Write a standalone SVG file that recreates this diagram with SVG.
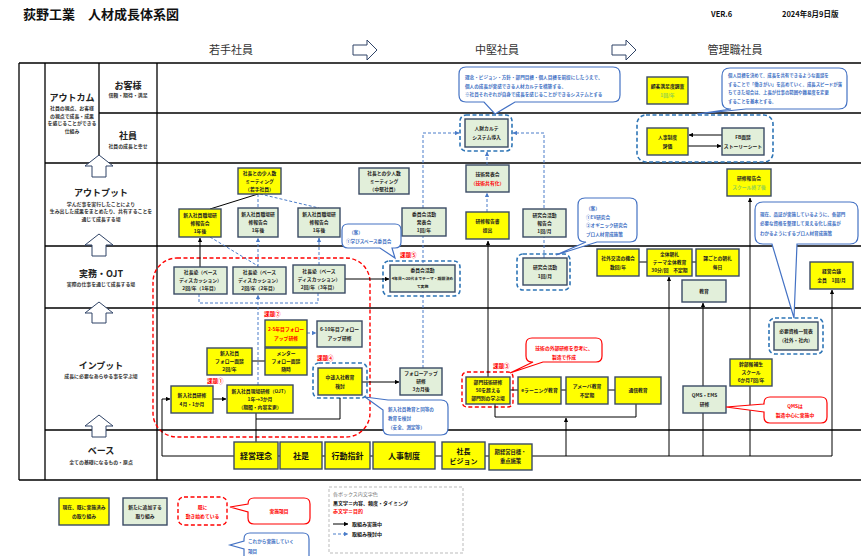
<svg xmlns="http://www.w3.org/2000/svg" width="861" height="556" viewBox="0 0 861 556">
<defs>
<style>
text{font-family:"Noto Sans CJK JP","Noto Sans",sans-serif;}
.t{font-size:4.8px;font-weight:bold;text-anchor:middle;fill:#222}
.tr{font-size:4.8px;font-weight:bold;text-anchor:middle;fill:#FF0000}
.tg{font-size:4.8px;font-weight:bold;text-anchor:middle;fill:#92D050}
.y{fill:#FFFF00;stroke:#3A4A64;stroke-width:1.4}
.g{fill:#E2EFDA;stroke:#3A4A64;stroke-width:1.4}
.fr{stroke:#000;stroke-width:1.3;fill:none}
.ua{fill:#fff;stroke:#2F4366;stroke-width:1}
.cat{font-size:9px;font-weight:bold;text-anchor:middle;fill:#222}
.sub{font-size:4.9px;font-weight:bold;text-anchor:middle;fill:#333}
.hd{font-size:11px;text-anchor:middle;fill:#333}
.bd{fill:none;stroke:#2E75B6;stroke-width:1.6;stroke-dasharray:4,2.5}
.rd{fill:none;stroke:#FF0000;stroke-width:1.4;stroke-dasharray:4,2.5}
.cb{fill:#fff;stroke:#4472C4;stroke-width:1.2}
.cr{fill:#fff;stroke:#FF0000;stroke-width:1.2}
.ctb{font-size:4.5px;fill:#4472C4;font-weight:bold}
.ctr{font-size:4.8px;fill:#FF0000;font-weight:bold;text-anchor:middle}
.k{font-size:5.5px;fill:#FF0000;font-weight:bold}
.s{stroke:#000;stroke-width:1;fill:none}
.sa{stroke:#000;stroke-width:1;fill:none;marker-end:url(#ab)}
.d{stroke:#4A7CC9;stroke-width:1;fill:none;stroke-dasharray:3,2}
.da{stroke:#4A7CC9;stroke-width:1;fill:none;stroke-dasharray:3,2;marker-end:url(#abl)}
.bt{font-size:8px;font-weight:bold;text-anchor:middle;fill:#111}
</style>
<marker id="ab" viewBox="0 0 6 6" refX="5.5" refY="3" markerWidth="4.5" markerHeight="4.5" orient="auto"><path d="M0,0 L6,3 L0,6 z" fill="#000"/></marker>
<marker id="abl" viewBox="0 0 6 6" refX="5.5" refY="3" markerWidth="4.5" markerHeight="4.5" orient="auto"><path d="M0,0 L6,3 L0,6 z" fill="#4A7CC9"/></marker>
</defs>
<rect width="861" height="556" fill="#fff"/>

<!-- header -->
<g id="header">
<text x="23" y="19" style="font-size:13px;font-weight:bold;fill:#111">荻野工業　人材成長体系図</text>
<text x="711" y="17" style="font-size:7.5px;font-weight:bold;fill:#111">VER.6</text>
<text x="782" y="17" style="font-size:7.5px;font-weight:bold;fill:#111">2024年8月9日版</text>
<text class="hd" x="231" y="54">若手社員</text>
<text class="hd" x="497" y="54">中堅社員</text>
<text class="hd" x="735" y="54">管理職社員</text>
<polygon class="ua" points="353,45 367,45 367,40 377,50 367,60 367,55 353,55"/>
<polygon class="ua" points="612,45 626,45 626,40 636,50 626,60 626,55 612,55"/>
</g>

<!-- frame -->
<g id="frame">
<line class="fr" x1="19" y1="63" x2="861" y2="63"/>
<line class="fr" x1="99" y1="113" x2="861" y2="113"/>
<line class="fr" x1="45" y1="163" x2="861" y2="163"/>
<line class="fr" x1="45" y1="246" x2="861" y2="246"/>
<line class="fr" x1="45" y1="308" x2="861" y2="308"/>
<line class="fr" x1="45" y1="430" x2="861" y2="430"/>
<line class="fr" x1="19" y1="480" x2="861" y2="480"/>
<line class="fr" x1="19" y1="63" x2="19" y2="480"/>
<line class="fr" x1="45" y1="63" x2="45" y2="480"/>
<line class="fr" x1="99" y1="63" x2="99" y2="163"/>
<line class="fr" x1="157" y1="63" x2="157" y2="480"/>
</g>

<!-- category labels -->
<g id="categories">
<text class="cat" x="72" y="101">アウトカム</text>
<text class="sub" x="72" y="110">社員の視点、お客様</text>
<text class="sub" x="72" y="117.5">の視点で成長・成果</text>
<text class="sub" x="72" y="125">を感じることができる</text>
<text class="sub" x="72" y="132.5">仕組み</text>
<text class="cat" x="128" y="89">お客様</text>
<text class="sub" x="128" y="97">信頼・期待・満足</text>
<text class="cat" x="128" y="139">社員</text>
<text class="sub" x="128" y="148">社員の成長と幸せ</text>
<text class="cat" x="101" y="196">アウトプット</text>
<text class="sub" x="101" y="205.5">学んだ事を実行したことにより</text>
<text class="sub" x="101" y="213">生み出した成果をまとめたり、共有することを</text>
<text class="sub" x="101" y="220.5">通じて成長する場</text>
<text class="cat" x="101" y="277">実務・OJT</text>
<text class="sub" x="101" y="286">実際の仕事を通じて成長する場</text>
<text class="cat" x="101" y="369">インプット</text>
<text class="sub" x="101" y="378">成長に必要なあらゆる事を学ぶ場</text>
<text class="cat" x="101" y="454">ベース</text>
<text class="sub" x="101" y="463.5">全ての基礎になるもの・原点</text>
<polygon class="ua" points="99,155 113,166 106,166 106,177 92,177 92,166 85,166"/>
<polygon class="ua" points="99,234 113,245 106,245 106,256 92,256 92,245 85,245"/>
<polygon class="ua" points="99,302 113,313 106,313 106,323 92,323 92,313 85,313"/>
<polygon class="ua" points="99,415 113,426 106,426 106,437 92,437 92,426 85,426"/>
</g>

<!-- containers -->
<g id="containers">
<rect class="rd" x="153" y="258" width="217" height="179" rx="24"/>
<rect class="bd" x="460" y="115" width="52" height="36" rx="6"/>
<rect class="bd" x="637" y="115" width="136" height="47" rx="9"/>
<rect class="bd" x="383" y="261" width="77" height="35" rx="6"/>
<rect class="bd" x="517" y="254" width="53" height="36" rx="6"/>
<rect class="bd" x="313" y="363" width="54" height="35" rx="6"/>
<rect class="rd" x="462" y="372" width="51" height="35" rx="5"/>
<rect class="bd" x="769" y="318" width="54" height="36" rx="6"/>
</g>

<!-- connectors -->
<g id="connectors">
<path class="da" d="M423,368 V133 H459"/>
<path class="da" d="M544,258 V133 H513"/>
<path class="da" d="M487,165 V152"/>
<path class="da" d="M487,212 V193"/>
<path class="da" d="M258,385 V295"/>
<path class="da" d="M258,267 V238"/>
<path class="d" d="M258,194 V208"/>
<path class="d" d="M260,194 L319,208"/>
<path class="d" d="M210,237 L258,266"/>
<path class="da" d="M319,265 V238"/>
<path class="d" d="M199,294 V303 H318 V293"/>
<path class="da" d="M307,333 H316"/>
<path class="sa" d="M200,267 V238"/>
<path class="s" d="M210,209 L258,194"/>
<path class="sa" d="M345,279 H389"/>
<path class="sa" d="M488,377 V241"/>
<path class="sa" d="M722,135 H689"/>
<path class="sa" d="M688,146 H721"/>
<path class="sa" d="M362,382 H399"/>
<path class="sa" d="M234,456 H162 V399 H170"/>
<path class="sa" d="M213,399 H226"/>
<path class="s" d="M256,442 V413"/>
<path class="s" d="M256,419 H340 V398"/>
<path class="s" d="M252,361 H265"/>
<path class="s" d="M278,456 H280 M322,456 H325 M370,456 H373 M435,456 H442 M485,456 H489"/>
<path class="s" d="M532,456 H832"/>
<path class="sa" d="M566,456 V418"/>
<path class="s" d="M495,404 V417 H636 V404"/>
<path class="sa" d="M669,456 V277"/>
<path class="s" d="M703,456 V413"/>
<path class="sa" d="M703,386 V303"/>
<path class="s" d="M750,456 V386"/>
<path class="sa" d="M750,359 V198"/>
<path class="sa" d="M832,456 V290"/>
<path class="s" d="M510,390 H518 M561,390 H566 M608,390 H615"/>
<path class="s" d="M639,262 H647 M692,262 H696"/>
</g>

<!-- nodes -->
<g id="n_wakate_meeting"><rect class="y" x="238" y="168" width="43" height="26"/><text class="t"><tspan x="259.5" y="174.8">社長との少人数</tspan><tspan x="259.5" y="182.8">ミーティング</tspan><tspan x="259.5" y="190.8">（若手社員）</tspan></text></g>
<g id="n_chuken_meeting"><rect class="g" x="359" y="168" width="50" height="26"/><text class="t"><tspan x="384" y="174.8">社長との少人数</tspan><tspan x="384" y="182.8">ミーティング</tspan><tspan x="384" y="190.8">（中堅社員）</tspan></text></g>
<g id="n_report1"><rect class="y" x="179" y="209" width="42" height="28"/><text class="t"><tspan x="200" y="216.8">新入社員職場研</tspan><tspan x="200" y="224.8">修報告会</tspan><tspan x="200" y="232.8">1年後</tspan></text></g>
<g id="n_report2"><rect class="g" x="238" y="208" width="40" height="29"/><text class="t"><tspan x="258" y="216.3">新入社員職場研</tspan><tspan x="258" y="224.3">修報告会</tspan><tspan x="258" y="232.3">1年後</tspan></text></g>
<g id="n_report3"><rect class="g" x="298" y="208" width="42" height="29"/><text class="t"><tspan x="319" y="216.3">新入社員職場研</tspan><tspan x="319" y="224.3">修報告会</tspan><tspan x="319" y="232.3">1年後</tspan></text></g>
<g id="n_iinkai_happyo"><rect class="g" x="402" y="208" width="44" height="28"/><text class="t"><tspan x="424" y="215.8">委員会活動</tspan><tspan x="424" y="223.8">発表会</tspan><tspan x="424" y="231.8">1回/年</tspan></text></g>
<g id="n_gijutsu_happyo"><rect class="g" x="466" y="165" width="43" height="27"/><text class="t" x="487.5" y="175.8">技術発表会</text><text class="tr" x="487.5" y="184.8">（技術共有化）</text></g>
<g id="n_kenshu_houkoku"><rect class="y" x="466" y="212" width="43" height="27"/><text class="t"><tspan x="487.5" y="222.8">研修報告書</tspan><tspan x="487.5" y="231.8">提出</tspan></text></g>
<g id="n_kenkyu_houkoku"><rect class="g" x="523" y="209" width="43" height="28"/><text class="t"><tspan x="544.5" y="216.8">研究会活動</tspan><tspan x="544.5" y="224.8">報告会</tspan><tspan x="544.5" y="232.8">1回/月</tspan></text></g>
<g id="n_kenshu_happyokai"><rect class="y" x="727" y="169" width="44" height="27"/><text class="t" x="749" y="179.8">研修報告会</text><text class="tg" x="749" y="188.8">スクール終了後</text></g>
<g id="n_cs"><rect class="y" x="647" y="77" width="41" height="27"/><text class="t" x="667.5" y="87.8">顧客満足度調査</text><text class="tg" x="667.5" y="96.8">1回/年</text></g>
<g id="n_jinji"><rect class="y" x="647" y="128" width="41" height="27"/><text class="t"><tspan x="667.5" y="138.8">人事制度</tspan><tspan x="667.5" y="147.8">評価</tspan></text></g>
<g id="n_fb"><rect class="g" x="722" y="128" width="42" height="27"/><text class="t"><tspan x="743" y="138.8">FB面談</tspan><tspan x="743" y="147.8">ストーリーシート</tspan></text></g>
<g id="n_karte"><rect class="g" x="465" y="119" width="43" height="28"/><text class="t"><tspan x="486.5" y="130.3">人財カルテ</tspan><tspan x="486.5" y="139.3">システム導入</tspan></text></g>
<g id="n_juku1"><rect class="g" x="174" y="267" width="53" height="27"/><text class="t"><tspan x="200.5" y="274.3">社長塾（ベース</tspan><tspan x="200.5" y="282.3">ディスカッション）</tspan><tspan x="200.5" y="290.3">2回/年（1年目）</tspan></text></g>
<g id="n_juku2"><rect class="g" x="233" y="267" width="53" height="27"/><text class="t"><tspan x="259.5" y="274.3">社長塾（ベース</tspan><tspan x="259.5" y="282.3">ディスカッション）</tspan><tspan x="259.5" y="290.3">2回/年（2年目）</tspan></text></g>
<g id="n_juku3"><rect class="g" x="293" y="265" width="52" height="28"/><text class="t"><tspan x="319" y="272.8">社長塾（ベース</tspan><tspan x="319" y="280.8">ディスカッション）</tspan><tspan x="319" y="288.8">2回/年（3年目）</tspan></text></g>
<g id="n_iinkai"><rect class="g" x="390" y="265" width="65" height="27"/><text class="t" x="422.5" y="272.3">委員会活動</text><text class="t" x="422.5" y="280.3" style="font-size:3.9px">4年目～20代までテーマ・期限決め</text><text class="t" x="422.5" y="288.3" style="font-size:3.9px">て実施</text></g>
<g id="n_kenkyu"><rect class="g" x="523" y="258" width="44" height="27"/><text class="t"><tspan x="545" y="268.8">研究会活動</tspan><tspan x="545" y="277.8">1回/月</tspan></text></g>
<g id="n_shagai"><rect class="y" x="597" y="249" width="42" height="27"/><text class="t"><tspan x="618" y="259.8">社外交流の機会</tspan><tspan x="618" y="268.8">数回/年</tspan></text></g>
<g id="n_zentai"><rect class="y" x="647" y="249" width="45" height="27"/><text class="t"><tspan x="669.5" y="256.3">全体朝礼</tspan><tspan x="669.5" y="264.3">テーマ全体教育</tspan><tspan x="669.5" y="272.3">30分/回　不定期</tspan></text></g>
<g id="n_kagoto"><rect class="y" x="696" y="249" width="43" height="27"/><text class="t"><tspan x="717.5" y="259.8">課ごとの朝礼</tspan><tspan x="717.5" y="268.8">毎日</tspan></text></g>
<g id="n_kyoiku"><rect class="g" x="682" y="280" width="44" height="22"/><text class="t" x="704" y="292.8">教育</text></g>
<g id="n_keiei_kaigi"><rect class="y" x="810" y="262" width="43" height="27"/><text class="t"><tspan x="831.5" y="272.8">経営会議</tspan><tspan x="831.5" y="281.8">全員　1回/月</tspan></text></g>
<g id="n_follow25"><rect class="y" x="265" y="320" width="42" height="27"/><text class="tr"><tspan x="286" y="330.8">2-5年目フォロー</tspan><tspan x="286" y="339.8">アップ研修</tspan></text></g>
<g id="n_follow610"><rect class="g" x="317" y="321" width="45" height="26"/><text class="t"><tspan x="339.5" y="331.3">6-10年目フォロー</tspan><tspan x="339.5" y="340.3">アップ研修</tspan></text></g>
<g id="n_shinnyu_follow"><rect class="y" x="207" y="348" width="45" height="27"/><text class="t"><tspan x="229.5" y="355.3">新入社員</tspan><tspan x="229.5" y="363.3">フォロー面談</tspan><tspan x="229.5" y="371.3">2回/年</tspan></text></g>
<g id="n_mentor"><rect class="y" x="265" y="348" width="42" height="27"/><text class="t"><tspan x="286" y="355.3">メンター</tspan><tspan x="286" y="363.3">フォロー面談</tspan><tspan x="286" y="371.3">随時</tspan></text></g>
<g id="n_chuto"><rect class="y" x="318" y="368" width="44" height="27"/><text class="t"><tspan x="340" y="378.8">中途入社教育</tspan><tspan x="340" y="387.8">検討</tspan></text></g>
<g id="n_followup"><rect class="g" x="400" y="368" width="42" height="27"/><text class="t"><tspan x="421" y="375.3">フォローアップ</tspan><tspan x="421" y="383.3">研修</tspan><tspan x="421" y="391.3">3カ月後</tspan></text></g>
<g id="n_shinnyu_kenshu"><rect class="y" x="171" y="386" width="42" height="27"/><text class="t"><tspan x="192" y="396.8">新入社員研修</tspan><tspan x="192" y="405.8">4月・1か月</tspan></text></g>
<g id="n_ojt"><rect class="y" x="227" y="385" width="66" height="28"/><text class="t"><tspan x="260" y="392.8">新入社員現場研修（OJT）</tspan><tspan x="260" y="400.8">1年→3か月</tspan><tspan x="260" y="408.8">（期間・内容変更）</tspan></text></g>
<g id="n_bumon"><rect class="y" x="466" y="377" width="44" height="27"/><text class="t"><tspan x="488" y="384.3">部門技術研修</tspan><tspan x="488" y="392.3">50を超える</tspan><tspan x="488" y="400.3">部門別の学ぶ場</tspan></text></g>
<g id="n_elearning"><rect class="y" x="518" y="377" width="43" height="27"/><text class="t" x="539.5" y="392.3">eラーニング教育</text></g>
<g id="n_amoeba"><rect class="y" x="566" y="377" width="42" height="27"/><text class="t"><tspan x="587" y="387.8">アメーバ教育</tspan><tspan x="587" y="396.8">不定期</tspan></text></g>
<g id="n_tsushin"><rect class="y" x="615" y="377" width="46" height="27"/><text class="t" x="638" y="392.3">通信教育</text></g>
<g id="n_kanbu"><rect class="y" x="730" y="359" width="42" height="27"/><text class="t"><tspan x="751" y="366.3">幹部候補生</tspan><tspan x="751" y="374.3">スクール</tspan><tspan x="751" y="382.3">6か月7回/年</tspan></text></g>
<g id="n_qms"><rect class="g" x="683" y="386" width="43" height="27"/><text class="t"><tspan x="704.5" y="396.8">QMS・EMS</tspan><tspan x="704.5" y="405.8">研修</tspan></text></g>
<g id="n_shikaku"><rect class="g" x="774" y="322" width="44" height="28"/><text class="t"><tspan x="796" y="333.3">必要資格一覧表</tspan><tspan x="796" y="342.3">（社外・社内）</tspan></text></g>
<g id="n_rinen"><rect class="y" x="234" y="442" width="44" height="27"/><text class="bt" x="256" y="458.5">経営理念</text></g>
<g id="n_shaze"><rect class="y" x="280" y="442" width="42" height="27"/><text class="bt" x="301" y="458.5">社是</text></g>
<g id="n_kodo"><rect class="y" x="325" y="442" width="45" height="27"/><text class="bt" x="347.5" y="458.5">行動指針</text></g>
<g id="n_jinjiseido"><rect class="y" x="373" y="442" width="62" height="27"/><text class="bt" x="404" y="458.5">人事制度</text></g>
<g id="n_vision"><rect class="y" x="442" y="442" width="43" height="27"/><text class="bt" style="font-size:7px"><tspan x="463.5" y="453.5">社長</tspan><tspan x="463.5" y="463.5">ビジョン</tspan></text></g>
<g id="n_mokuhyo"><rect class="y" x="489" y="444" width="43" height="26"/><text class="t" style="font-size:5.3px"><tspan x="510.5" y="454">期経営目標・</tspan><tspan x="510.5" y="463">重点施策</tspan></text></g>

<!-- issue labels -->
<g id="issues">
<text class="k" x="207" y="383">課題①</text>
<text class="k" x="264" y="316">課題②</text>
<text class="k" x="493" y="368">課題③</text>
<text class="k" x="317" y="360">課題④</text>
<text class="k" x="400" y="257">課題⑤</text>
</g>

<!-- callouts -->
<g id="callout_karte">
<path class="cb" d="M466,67 H613 Q620,67 620,74 V95 Q620,102 613,102 H515 L495,114 L484,102 H466 Q459,102 459,95 V74 Q459,67 466,67 Z"/>
<text class="ctb" style="font-size:4.6px"><tspan x="465" y="79">理念・ビジョン・方針・部門目標・個人目標を前提にしたうえで、</tspan><tspan x="465" y="87.5">個人の成長が実感できる人材カルテを構築する。</tspan><tspan x="465" y="96">※社員それぞれが自身で成長を感じることができるシステムとする</tspan></text>
</g>
<g id="callout_mendan">
<path class="cb" d="M730,68 H839 Q847,68 847,76 V101 Q847,109 839,109 H746 L697,114 L731,109 H730 Q722,109 722,101 V76 Q722,68 730,68 Z"/>
<text class="ctb" style="font-size:4.4px"><tspan x="728" y="77">個人目標を決めて、成長を共有できるような面談を</tspan><tspan x="728" y="85.5">することで「働きがい」を高めていく。成長スピードが落</tspan><tspan x="728" y="94">ちてきた場合は、上長が仕事の範囲や難易度を変更</tspan><tspan x="728" y="102.5">することを基本とする。</tspan></text>
</g>
<g id="callout_manabi">
<path class="cb" d="M348,224 H395 Q401,224 401,230 V242 Q401,248 395,248 H392 L395,258 L380,248 H348 Q342,248 342,242 V230 Q342,224 348,224 Z"/>
<text class="ctb" style="font-size:4.6px"><tspan x="349" y="234">（案）</tspan><tspan x="346" y="242.5">①学びスペース委員会</tspan></text>
</g>
<g id="callout_kenkyu">
<path class="cb" d="M585,198 H630 Q637,198 637,205 V235 Q637,242 630,242 H597 L556,255 L586,242 H585 Q578,242 578,235 V205 Q578,198 585,198 Z"/>
<text class="ctb" style="font-size:4.6px"><tspan x="586" y="210">（案）</tspan><tspan x="586" y="218.5">①EV研究会</tspan><tspan x="586" y="227">②オギニック研究会</tspan><tspan x="586" y="235.5">プロ人材育成施策</tspan></text>
</g>
<g id="callout_shikaku">
<path class="cb" d="M763,202 H850 Q858,202 858,210 V236 Q858,244 850,244 H797 L794,318 L772,244 H763 Q755,244 755,236 V210 Q755,202 763,202 Z"/>
<text class="ctb" style="font-size:4.5px"><tspan x="760" y="216">現在、品証が実施しているように、各部門</tspan><tspan x="760" y="225">必要な資格を整理して見える化し成長が</tspan><tspan x="760" y="234.5">わかるようにするプロ人材育成施策</tspan></text>
</g>
<g id="callout_chuto">
<path class="cb" d="M390,400 H441 Q448,400 448,407 V428 Q448,435 441,435 H390 Q383,435 383,428 V410 L365,397 L388,400 Z"/>
<text class="ctb" style="font-size:4.6px"><tspan x="388" y="411">新入社員教育と同等の</tspan><tspan x="388" y="420">教育を検討</tspan><tspan x="388" y="429">（安全、測定等）</tspan></text>
</g>
<g id="callout_gaibu">
<path class="cr" d="M532,338 H596 Q602,338 602,344 V356 Q602,362 596,362 H543 L510,373 L533,362 H532 Q526,362 526,356 V344 Q526,338 532,338 Z"/>
<text class="ctr"><tspan x="564" y="350">技術の外部研修を参考に、</tspan><tspan x="564" y="358.5">製造で作成</tspan></text>
</g>
<g id="callout_qms">
<path class="cr" d="M770,397 H821 Q827,397 827,403 V417 Q827,423 821,423 H770 Q764,423 764,417 V412 L726,407 L764,404 V403 Q764,397 770,397 Z"/>
<text class="ctr"><tspan x="795" y="408">QMSは</tspan><tspan x="795" y="416.5">製造中心に実施中</tspan></text>
</g>

<!-- legend -->
<g id="legend">
<rect class="y" x="59" y="498" width="50" height="27"/>
<text class="t"><tspan x="84" y="509">現在、既に実施済み</tspan><tspan x="84" y="517.5">の取り組み</tspan></text>
<rect class="g" x="123" y="498" width="44" height="27"/>
<text class="t"><tspan x="145" y="509">新たに追加する</tspan><tspan x="145" y="517.5">取り組み</tspan></text>
<rect class="rd" x="178" y="497" width="49" height="28" rx="6"/>
<text class="ctr"><tspan x="202.5" y="509">既に</tspan><tspan x="202.5" y="517.5">動き始めている</tspan></text>
<path class="cr" d="M254,498 H304 Q310,498 310,504 V518 Q310,524 304,524 H254 Q248,524 248,518 V512 L230,507 L248,504 Q248,498 254,498 Z"/>
<text class="ctr" x="279" y="512.5">実施項目</text>
<path class="cb" d="M250,533 H303 Q309,533 309,539 V562 H250 Q244,562 244,556 V549 L230,545 L244,541 V539 Q244,533 250,533 Z"/>
<text class="ctb" style="font-size:4.6px"><tspan x="248" y="543">これから実施していく</tspan><tspan x="248" y="552.5">項目</tspan></text>
<rect x="329" y="487" width="134" height="66" fill="none" stroke="#BBBBBB" stroke-width="1" stroke-dasharray="3,2"/>
<text x="333" y="496" style="font-size:5px;fill:#777">各ボックス内文字色</text>
<text x="333" y="504.5" style="font-size:5px;font-weight:bold;fill:#111">黒文字＝内容、頻度・タイミング</text>
<text x="333" y="513" style="font-size:5px;font-weight:bold;fill:#FF0000">赤文字＝目的</text>
<path class="sa" d="M333,524 H348"/>
<text x="352" y="526" style="font-size:5px;font-weight:bold;fill:#111">取組み実施中</text>
<path class="da" d="M333,534 H348"/>
<text x="352" y="536" style="font-size:5px;font-weight:bold;fill:#111">取組み検討中</text>
</g>
</svg>
